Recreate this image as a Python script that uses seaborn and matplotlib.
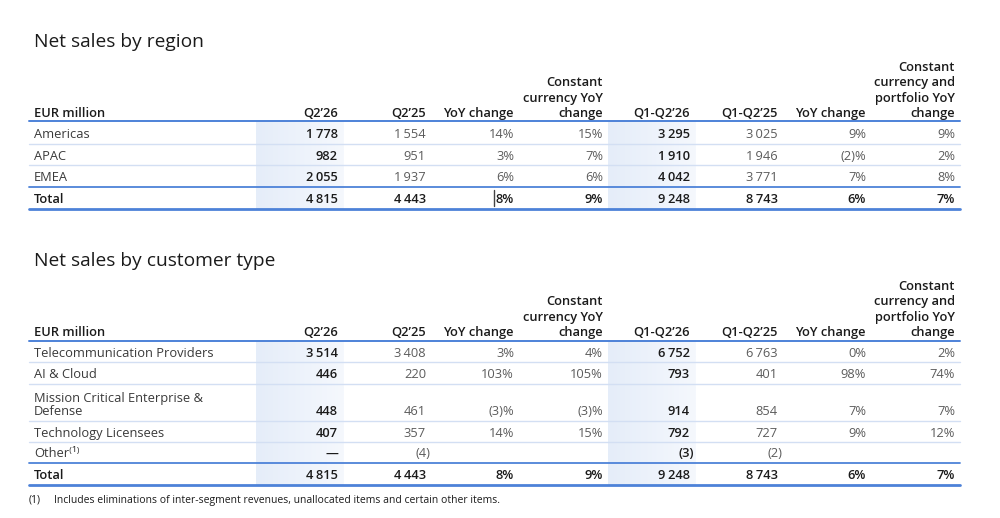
import numpy as np
import matplotlib
matplotlib.use("Agg")
import matplotlib.pyplot as plt
import seaborn as sns

# ---- data ----
headers = ["EUR million", "Q2’26", "Q2’25", "YoY change", "Constant\ncurrency YoY\nchange",
           "Q1-Q2’26", "Q1-Q2’25", "YoY change", "Constant\ncurrency and\nportfolio YoY\nchange"]

region_rows = ["Americas", "APAC", "EMEA", "Total"]
region_q2_26 = [1778, 982, 2055, 4815]
region_q2_25 = [1554, 951, 1937, 4443]
region_yoy = [14, 3, 6, 8]
region_cc_yoy = [15, 7, 6, 9]
region_h1_26 = [3295, 1910, 4042, 9248]
region_h1_25 = [3025, 1946, 3771, 8743]
region_h1_yoy = [9, -2, 7, 6]
region_h1_ccp = [9, 2, 8, 7]

customer_rows = ["Telecommunication Providers", "AI & Cloud", "Mission Critical Enterprise &\nDefense",
                 "Technology Licensees", "Other⁽¹⁾", "Total"]
cust_q2_26 = [3514, 446, 448, 407, 0, 4815]
cust_q2_25 = [3408, 220, 461, 357, -4, 4443]
cust_yoy = [3, 103, -3, 14, None, 8]
cust_cc_yoy = [4, 105, -3, 15, None, 9]
cust_h1_26 = [6752, 793, 914, 792, -3, 9248]
cust_h1_25 = [6763, 401, 854, 727, -2, 8743]
cust_h1_yoy = [0, 98, 7, 9, None, 6]
cust_h1_ccp = [2, 74, 7, 12, None, 7]

footnote = "Includes eliminations of inter-segment revenues, unallocated items and certain other items."

sns.set_theme(style="white")
plt.rcParams["font.family"] = ["Open Sans", "DejaVu Sans"]

DARK = "#1b1b1b"
GREY = "#5c5c5c"
LABEL = "#3a3a3a"
BLUE = "#4d82d8"
PALE = "#d3dff3"

col_right = [338, 426, 514, 603, 690, 778, 866, 955]
kinds = ["amt", "amt", "pct", "pct", "amt", "amt", "pct", "pct"]
bold_cols = [0, 4]
shade_cols = [(256, 344), (608, 696)]
X0, X1 = 29, 960
FS = 9.3
WB = "semibold"


def fmt(v, kind):
    if v is None:
        return ""
    if kind == "pct":
        return f"({-v})%" if v < 0 else f"{v}%"
    if v == 0:
        return "—"
    if v < 0:
        return f"({-v})"
    return f"{v:,}".replace(",", "\u2009")


fig = plt.figure(figsize=(10, 5.18), dpi=100)
ax = fig.add_axes([0, 0, 1, 1])
ax.set_xlim(0, 1000)
ax.set_ylim(518, 0)
ax.axis("off")

grad = np.linspace(0, 1, 64).reshape(1, -1)
cmap = matplotlib.colors.LinearSegmentedColormap.from_list("sh", ["#e5edf9", "#f5f8fd"])


def draw_table(title, title_y, head_y, head_line, rows, cols, row_y, seps, total_line, bottom):
    ax.text(34, title_y, title, fontsize=13.8, color=DARK, va="center_baseline", ha="left")
    for x0, x1 in shade_cols:
        ax.imshow(grad, cmap=cmap, extent=(x0, x1, bottom, head_line), aspect="auto", zorder=0)
    # headers
    xs = [34] + col_right
    for i, h in enumerate(headers):
        for k, line in enumerate(reversed(h.split("\n"))):
            ax.text(xs[i], head_y - k * 15.4, line, fontsize=FS, fontweight=WB, color=DARK,
                    ha="left" if i == 0 else "right", va="center_baseline")
    ax.plot([X0, X1], [head_line, head_line], color=BLUE, lw=1.4, zorder=2)
    for y in seps:
        ax.plot([X0, X1], [y, y], color=PALE, lw=1.0, zorder=1)
    ax.plot([X0, X1], [total_line, total_line], color=BLUE, lw=1.3, zorder=2)
    ax.plot([X0, X1], [bottom, bottom], color=BLUE, lw=2.0, zorder=2)
    n = len(rows)
    for r, name in enumerate(rows):
        total = r == n - 1
        parts = name.split("\n")
        for k, line in enumerate(reversed(parts)):
            ax.text(34, row_y[r] - k * 13, line, fontsize=FS, color=DARK if total else LABEL,
                    fontweight=WB if total else "normal", ha="left", va="center_baseline")
        for c, series in enumerate(cols):
            s = fmt(series[r], kinds[c])
            if not s:
                continue
            bold = total or c in bold_cols
            x = col_right[c]
            if kinds[c] == "amt" and series[r] < 0:
                x += 4
            ax.text(x, row_y[r], s, fontsize=FS, color=DARK if bold else GREY,
                    fontweight=WB if bold else "normal", ha="right", va="center_baseline")


draw_table("Net sales by region", 40, 112, 121, region_rows,
           [region_q2_26, region_q2_25, region_yoy, region_cc_yoy,
            region_h1_26, region_h1_25, region_h1_yoy, region_h1_ccp],
           [133, 155, 176, 198], [144, 165], 187, 209)

# text cursor visible in the reference
ax.plot([494, 494], [190, 206], color="#444444", lw=1.0)

draw_table("Net sales by customer type", 259, 331, 341, customer_rows,
           [cust_q2_26, cust_q2_25, cust_yoy, cust_cc_yoy,
            cust_h1_26, cust_h1_25, cust_h1_yoy, cust_h1_ccp],
           [352, 373, 410, 432, 452, 474], [362, 384, 421, 442], 463, 485)

ax.text(29, 499, "(1)", fontsize=7.5, color=DARK, va="center_baseline", ha="left")
ax.text(54, 499, footnote, fontsize=7.5, color=DARK, va="center_baseline", ha="left")

fig.savefig("out.png", dpi=100, facecolor="white")
